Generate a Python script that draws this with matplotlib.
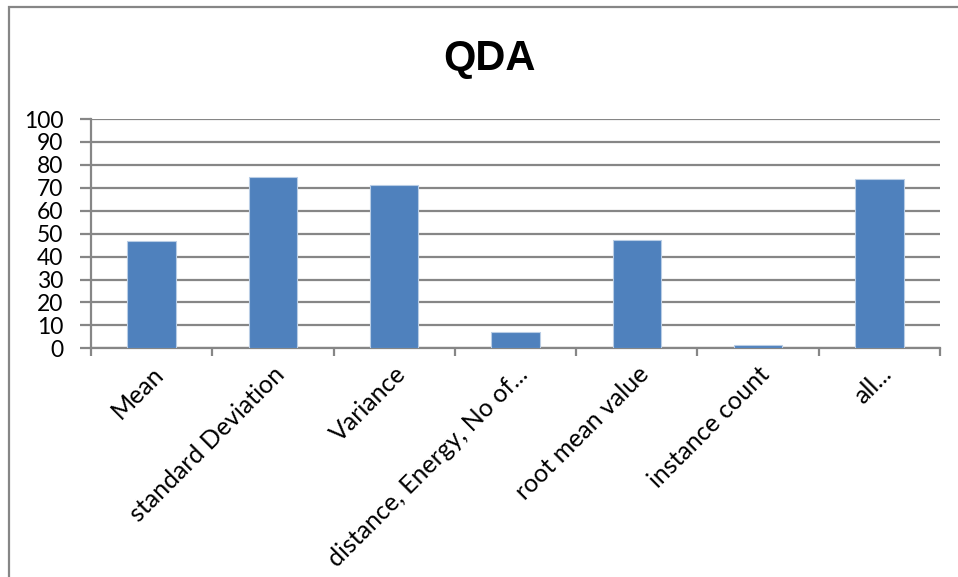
import matplotlib
matplotlib.use("Agg")
import matplotlib.pyplot as plt
from matplotlib.patches import Rectangle
import numpy as np

# Accuracy per feature set for the QDA classifier
categories = ["Mean", "standard Deviation", "Variance", "distance, Energy, No of...",
              "root mean value", "instance count", "all..."]
values = [46.8, 74.6, 71.4, 7.0, 47.1, 1.3, 73.8]
y_ticks = [0, 10, 20, 30, 40, 50, 60, 70, 80, 90, 100]

W, H = 958, 577
fig = plt.figure(figsize=(W / 100, H / 100), dpi=100)
fig.patch.set_facecolor("white")

# chart frame
fig.patches.append(Rectangle((8.5 / W, -0.1), 1.2, (H - 6.5) / H + 0.1,
                             transform=fig.transFigure, fill=False,
                             edgecolor="#868686", linewidth=1.6, zorder=0))

ax_left, ax_right = 91 / W, 940 / W
ax_bottom, ax_top = (H - 348.3) / H, (H - 119) / H
ax = fig.add_axes([ax_left, ax_bottom, ax_right - ax_left, ax_top - ax_bottom])

x = np.arange(len(categories))
ax.bar(x, values, width=0.40, color="#4F81BD", edgecolor="#B9CDE5",
       linewidth=0.8, zorder=3)

ax.set_xlim(-0.5, len(categories) - 0.5)
ax.set_ylim(0, 100)
ax.set_yticks(y_ticks)
ax.set_yticklabels([str(t) for t in y_ticks], fontsize=16.5, family="Lato")

grid_color = "#868686"
ax.yaxis.grid(True, color=grid_color, linewidth=1.6, zorder=0)
ax.set_axisbelow(True)
for side in ("top", "right"):
    ax.spines[side].set_visible(False)
for side in ("left", "bottom"):
    ax.spines[side].set_color(grid_color)
    ax.spines[side].set_linewidth(1.6)

ax.tick_params(axis="y", direction="out", length=8, width=1.6, color=grid_color,
               pad=12, labelcolor="black")

# category boundary ticks on the x axis, labels at bar centres
ax.set_xticks(np.arange(-0.5, len(categories), 1.0))
ax.set_xticklabels([])
ax.tick_params(axis="x", direction="out", length=6, width=1.6, color=grid_color)
for xi, lab in zip(x, categories):
    ax.annotate(lab, xy=(xi, 0), xycoords="data", xytext=(0, -10),
                textcoords="offset points", rotation=45, rotation_mode="anchor",
                ha="right", va="top", fontsize=18, family="Lato")

fig.text(489 / W, (H - 59) / H, "QDA", ha="center", va="center",
         fontsize=30, fontweight="bold", family="Liberation Sans")

fig.savefig("out.png", dpi=100, facecolor="white")
